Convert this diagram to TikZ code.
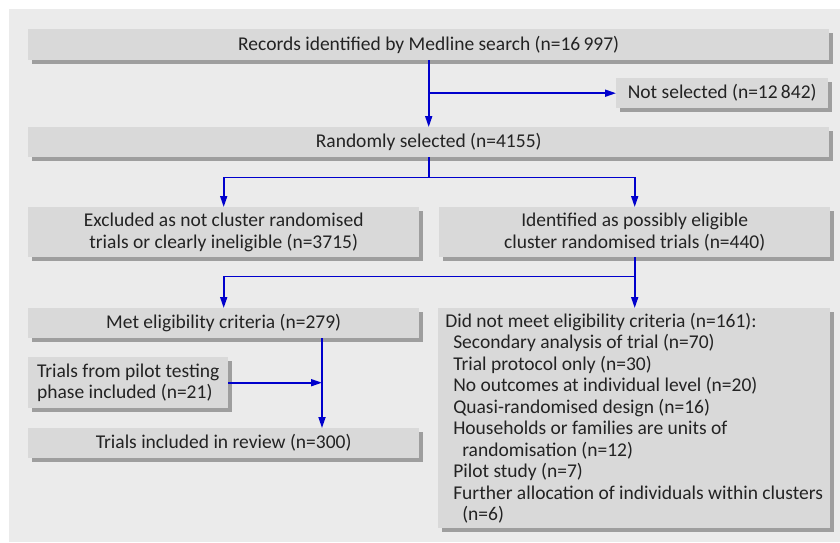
\documentclass[tikz,border=0pt]{standalone}
\usepackage{fontspec}
\setmainfont{Carlito}
\usetikzlibrary{arrows.meta,shadows,calc}
\definecolor{panelc}{RGB}{235,235,235}
\definecolor{boxc}{RGB}{217,217,217}
\definecolor{shadc}{RGB}{158,158,158}
\definecolor{linec}{RGB}{0,0,204}
\definecolor{txtc}{RGB}{35,35,35}
\tikzset{
  box/.style={fill=boxc, draw=none,
    general shadow={fill=shadc, shadow xshift=3.5pt, shadow yshift=-3.5pt},
    inner sep=0pt, text=txtc, font=\fontsize{19.5}{21.5}\selectfont, anchor=north west},
  arr/.style={draw=linec, line width=1.7pt, -{Triangle[length=11pt,width=7pt]}},
  ln/.style={draw=linec, line width=1.7pt}
}
\begin{document}
\begin{tikzpicture}[x=1pt,y=-1pt]
\useasboundingbox (0,0) rectangle (840,543);
\fill[white] (0,0) rectangle (840,543);
\fill[panelc] (9,9) rectangle (840,542);

\node[box, minimum width=801pt, minimum height=31pt] (rec) at (28,29) {Records identified by Medline search (n=16\,997)};
\node[box, minimum width=212pt, minimum height=30pt] (ns) at (616,78) {Not selected (n=12\,842)};
\node[box, minimum width=801pt, minimum height=30pt] (rs) at (28,127) {Randomly selected (n=4155)};
\node[box, minimum width=391pt, minimum height=50pt, align=center] (ex) at (28,207) {Excluded as not cluster randomised\\trials or clearly ineligible (n=3715)};
\node[box, minimum width=391pt, minimum height=50pt, align=center] (id) at (439,207) {Identified as possibly eligible\\cluster randomised trials (n=440)};
\node[box, minimum width=391pt, minimum height=30pt] (met) at (28,308) {Met eligibility criteria (n=279)};
\node[box, minimum width=200pt, minimum height=51pt, align=left] (pil) at (28,357) {Trials from pilot testing\\phase included (n=21)};
\node[box, minimum width=391pt, minimum height=30pt] (tr) at (28,428) {Trials included in review (n=300)};
\node[box, minimum width=392pt, minimum height=220pt, align=left] (dn) at (438,308) {Did not meet eligibility criteria (n=161):\\
\hspace*{8pt}Secondary analysis of trial (n=70)\\
\hspace*{8pt}Trial protocol only (n=30)\\
\hspace*{8pt}No outcomes at individual level (n=20)\\
\hspace*{8pt}Quasi-randomised design (n=16)\\
\hspace*{8pt}Households or families are units of\\
\hspace*{17pt}randomisation (n=12)\\
\hspace*{8pt}Pilot study (n=7)\\
\hspace*{8pt}Further allocation of individuals within clusters\\
\hspace*{17pt}(n=6)};

\draw[arr] (rec.south) -- (rs.north);
\draw[arr] (rec.south |- ns.west) -- (ns.west);
\coordinate (s1) at ($(rs.south)+(0,20)$);
\draw[ln] (rs.south) -- (s1);
\draw[arr] (s1) -| (ex.north);
\draw[arr] (s1) -| (id.north);
\coordinate (s2) at ($(id.south)+(0,19)$);
\draw[ln] (id.south) -- (s2);
\draw[arr] (s2) -| (met.north);
\draw[arr] (s2) -- (s2 |- dn.north);
\coordinate (mx) at ($(met.south west)+(294,0)$);
\draw[arr] (mx) -- (mx |- tr.north);
\draw[arr] (pil.east) -- (pil.east -| mx);
\end{tikzpicture}
\end{document}
